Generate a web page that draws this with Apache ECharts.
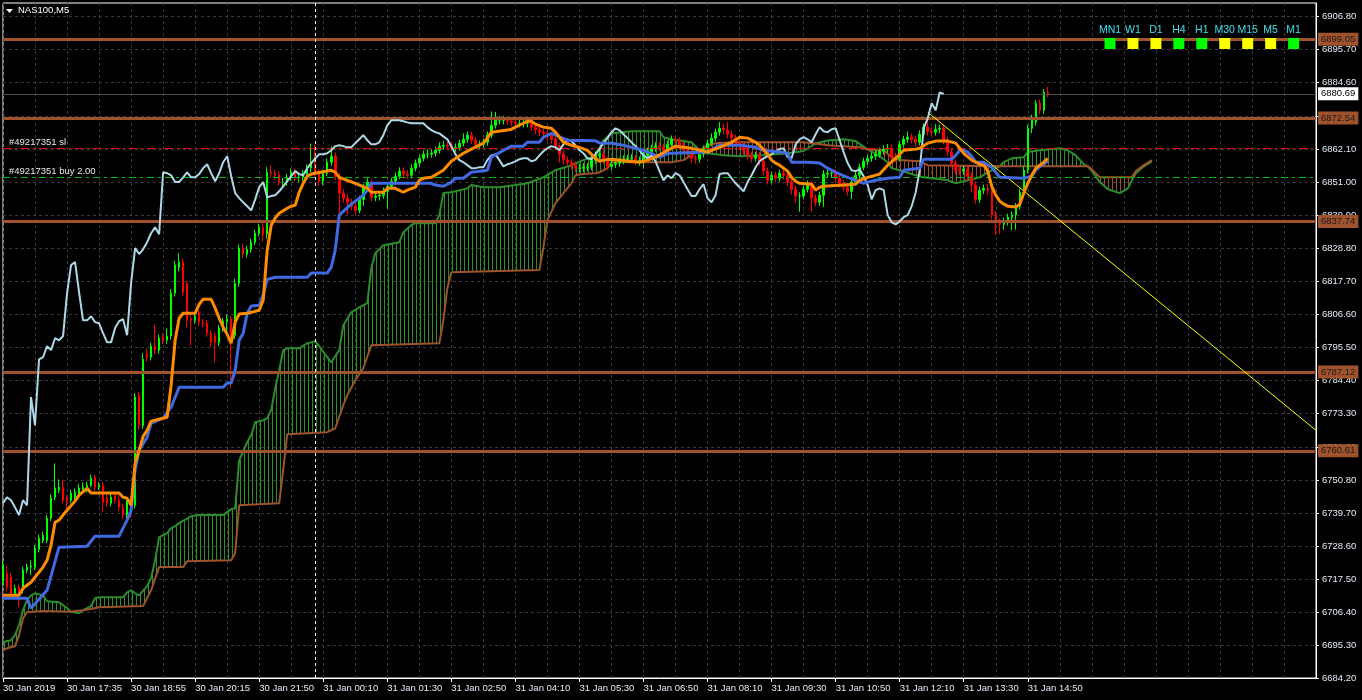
<!DOCTYPE html>
<html><head><meta charset="utf-8">
<script src="https://cdn.jsdelivr.net/npm/echarts@6/dist/echarts.min.js"></script>
<style>html,body{margin:0;padding:0;background:#000;}#c{width:1362px;height:700px;}</style>
</head><body><div id="c"></div>
<script>
// ---------- categories (M5 bars, with session gaps) ----------
const YEAR = '2019';
const sessions = [['30 Jan','16:15',48],['30 Jan','20:15',8],['30 Jan','21:10',10],['30 Jan','23:00',12],['31 Jan','00:00',251]];
const LAST_BAR = 261;
const categories = [];
sessions.forEach(([day, start, n]) => {
  const [h, m] = start.split(':').map(Number);
  for (let k = 0; k < n; k++) {
    const t = h * 60 + m + 5 * k;
    categories.push(day + ' ' + String(Math.floor(t / 60)).padStart(2, '0') + ':' + String(t % 60).padStart(2, '0'));
  }
});

// ---------- candles ----------
const opens = [
6716.8,6719.4,6718.1,6712.7,6714.7,6713.7,6720.5,6721.5,6721.5,6727.5,
6730.5,6730.5,6737.9,6745.0,6747.5,6748.4,6744.7,6744.0,6745.0,6746.4,
6747.7,6748.1,6749.0,6751.7,6748.4,6749.0,6744.7,6743.0,6745.7,6744.0,
6741.6,6739.0,6744.0,6742.3,6779.3,6769.2,6793.2,6792.1,6795.8,6794.5,
6798.9,6797.8,6799.2,6813.6,6822.4,6824.1,6816.8,6805.0,6804.5,6807.0,
6803.9,6803.5,6800.2,6799.2,6797.1,6801.9,6804.2,6804.9,6799.5,6817.0,
6828.8,6826.8,6828.4,6830.8,6833.8,6835.8,6833.5,6854.3,6854.0,6853.3,
6851.0,6851.0,6852.6,6854.3,6852.6,6852.6,6853.7,6855.7,6857.0,6854.0,
6851.3,6854.0,6857.7,6859.7,6853.0,6847.3,6845.6,6844.2,6842.9,6841.5,
6845.2,6849.3,6851.0,6845.9,6846.3,6846.6,6847.9,6849.6,6851.3,6853.0,
6854.7,6853.7,6853.3,6855.7,6857.4,6859.0,6860.4,6860.4,6860.7,6861.7,
6863.1,6863.4,6863.1,6862.7,6862.7,6864.1,6865.4,6866.8,6865.1,6863.7,
6863.7,6864.4,6866.8,6870.1,6871.8,6871.8,6871.8,6871.5,6871.1,6870.8,
6870.8,6870.8,6870.8,6869.5,6868.5,6867.8,6867.4,6866.4,6865.4,6863.1,
6860.4,6858.4,6857.7,6856.7,6855.7,6855.7,6856.0,6856.0,6858.4,6860.0,
6860.4,6858.4,6856.3,6857.0,6857.4,6858.0,6858.7,6859.0,6859.0,6858.0,
6858.4,6860.0,6861.4,6862.4,6863.1,6862.7,6861.7,6863.7,6865.4,6864.8,
6863.4,6861.7,6860.7,6859.0,6858.7,6860.4,6862.1,6864.1,6865.8,6867.8,
6869.1,6868.5,6867.1,6865.8,6864.4,6863.1,6861.7,6860.0,6859.0,6860.0,
6858.0,6854.7,6851.6,6853.3,6852.3,6854.0,6853.3,6851.0,6848.6,6846.3,
6846.3,6848.6,6850.3,6845.6,6844.2,6846.6,6853.7,6854.0,6854.0,6852.3,
6850.6,6849.3,6847.9,6851.0,6853.3,6856.0,6858.0,6859.0,6859.7,6860.4,
6861.4,6862.1,6862.4,6859.4,6859.0,6863.7,6865.4,6866.1,6865.4,6864.4,
6867.1,6869.5,6868.1,6867.8,6868.8,6869.1,6865.1,6861.1,6857.4,6855.0,
6854.7,6855.3,6853.0,6850.0,6845.2,6848.3,6848.9,6848.3,6839.9,6837.5,
6836.8,6837.8,6839.2,6839.9,6842.9,6847.6,6855.0,6869.1,6871.2,6877.5,6875.2,6881.2];
const closes = [
6722.0,6714.7,6712.7,6714.4,6712.7,6720.5,6721.5,6721.8,6727.9,6731.2,
6732.2,6737.9,6744.7,6748.1,6748.4,6744.0,6744.0,6746.4,6746.7,6748.1,
6748.4,6749.0,6751.4,6748.4,6749.0,6743.3,6743.0,6745.0,6744.0,6741.6,
6739.0,6744.0,6742.3,6778.7,6769.2,6791.4,6792.1,6795.8,6794.5,6798.5,
6797.8,6799.2,6813.6,6823.1,6824.1,6814.0,6804.5,6804.5,6805.9,6803.9,
6803.5,6800.2,6797.1,6797.1,6801.9,6804.2,6804.9,6799.5,6817.0,6828.8,
6826.8,6828.4,6830.8,6833.8,6835.8,6833.5,6854.3,6854.0,6853.3,6851.0,
6851.0,6852.6,6854.3,6852.6,6852.6,6853.7,6855.7,6857.0,6854.0,6851.3,
6854.0,6857.7,6859.7,6853.0,6847.3,6845.6,6844.2,6842.9,6841.5,6845.2,
6849.3,6851.0,6845.9,6846.3,6846.6,6847.9,6849.6,6851.3,6853.0,6854.7,
6853.7,6853.3,6855.7,6857.4,6859.0,6860.4,6860.4,6860.7,6861.7,6863.1,
6863.4,6863.1,6862.7,6862.7,6864.1,6865.4,6866.8,6865.1,6863.7,6863.7,
6864.4,6866.8,6870.1,6871.8,6871.8,6871.8,6871.5,6871.1,6870.8,6870.8,
6870.8,6870.8,6869.5,6868.5,6867.8,6867.4,6866.4,6865.4,6863.1,6860.4,
6858.4,6857.7,6856.7,6855.7,6855.7,6856.0,6856.0,6858.4,6860.0,6860.4,
6858.4,6856.3,6857.0,6857.4,6858.0,6858.7,6859.0,6859.0,6858.0,6858.4,
6860.0,6861.4,6862.4,6863.1,6862.7,6861.7,6863.7,6865.4,6864.8,6863.4,
6861.7,6860.7,6859.0,6858.7,6860.4,6862.1,6864.1,6865.8,6867.8,6869.1,
6868.5,6867.1,6865.8,6864.4,6863.1,6861.7,6860.0,6859.0,6860.0,6858.0,
6854.7,6851.6,6853.3,6852.3,6854.0,6853.3,6851.0,6848.6,6846.3,6846.3,
6848.6,6850.3,6845.6,6844.2,6846.6,6853.7,6854.0,6854.0,6852.3,6850.6,
6849.3,6847.9,6851.0,6853.3,6856.0,6858.0,6859.0,6859.7,6860.4,6861.4,
6862.1,6862.4,6859.4,6859.0,6863.7,6865.4,6866.1,6865.4,6864.4,6867.1,
6869.5,6868.1,6867.8,6868.8,6869.1,6865.1,6861.1,6857.4,6855.0,6854.7,
6855.3,6853.0,6850.0,6845.2,6848.3,6848.9,6848.3,6839.9,6837.5,6836.8,
6837.8,6839.2,6839.9,6842.9,6847.6,6855.0,6869.1,6872.5,6877.5,6875.2,6881.2,6880.7];
const lows = [
6715.3,6713.2,6711.0,6711.2,6708.0,6712.6,6719.4,6718.8,6720.6,6726.4,
6729.6,6729.5,6737.0,6744.0,6746.4,6742.8,6740.6,6743.0,6744.0,6745.4,
6746.6,6746.6,6748.4,6747.2,6747.4,6740.1,6741.8,6741.9,6742.9,6740.3,
6737.6,6737.8,6738.0,6741.2,6767.8,6768.0,6790.6,6791.0,6793.2,6793.3,
6796.5,6796.6,6798.0,6812.5,6821.0,6812.8,6802.0,6796.0,6803.4,6802.5,
6802.2,6799.0,6795.6,6790.4,6795.8,6800.6,6800.0,6781.7,6798.2,6815.8,
6825.5,6825.6,6827.3,6829.8,6832.7,6831.0,6832.0,6852.5,6851.8,6849.7,
6849.6,6849.8,6851.4,6851.3,6851.0,6851.4,6852.6,6854.4,6852.6,6849.8,
6850.0,6853.0,6856.4,6851.6,6840.5,6844.0,6840.0,6841.5,6840.0,6840.5,
6843.0,6848.0,6844.5,6844.6,6844.8,6845.4,6842.0,6848.5,6850.2,6852.0,
6852.4,6852.0,6852.3,6854.6,6856.3,6858.0,6859.0,6859.2,6859.6,6860.6,
6862.0,6861.8,6861.4,6861.2,6861.6,6863.0,6864.2,6863.8,6862.4,6862.2,
6862.6,6863.3,6865.8,6869.0,6870.4,6870.4,6870.2,6869.8,6869.5,6869.4,
6869.4,6869.4,6868.2,6867.2,6866.5,6866.0,6865.0,6864.0,6861.8,6857.5,
6857.0,6856.3,6855.3,6854.3,6854.2,6854.3,6854.6,6855.0,6857.2,6858.8,
6857.0,6855.0,6855.0,6855.8,6856.2,6857.0,6857.4,6857.6,6856.6,6856.5,
6855.5,6858.8,6860.2,6861.2,6861.4,6860.3,6860.6,6862.6,6863.4,6862.0,
6860.3,6859.3,6857.6,6857.2,6857.5,6859.3,6861.0,6863.0,6864.7,6866.6,
6867.1,6865.7,6864.4,6863.0,6861.7,6860.3,6858.6,6857.6,6857.9,6856.6,
6853.3,6850.2,6850.5,6850.9,6851.2,6851.9,6849.6,6846.8,6844.0,6841.0,
6845.2,6847.5,6841.0,6842.8,6843.0,6842.7,6852.4,6852.6,6850.9,6849.2,
6847.9,6846.5,6845.3,6850.0,6852.2,6855.0,6856.8,6857.8,6858.5,6859.2,
6860.2,6860.8,6858.0,6857.6,6858.0,6862.6,6864.2,6864.0,6863.0,6863.4,
6866.0,6866.7,6866.4,6866.6,6867.4,6863.7,6859.7,6856.0,6853.6,6853.3,
6853.4,6851.6,6847.5,6843.8,6844.0,6847.0,6846.9,6838.5,6833.1,6833.5,
6835.0,6836.4,6834.8,6835.0,6841.8,6846.4,6854.0,6867.5,6870.0,6873.8,6874.0,6879.5];
const highs = [
6723.5,6722.0,6719.5,6715.6,6715.7,6721.6,6722.6,6723.8,6729.0,6732.4,
6733.4,6739.0,6745.9,6756.4,6751.0,6750.9,6745.6,6747.6,6748.0,6749.4,
6750.0,6750.2,6752.6,6752.6,6750.0,6750.1,6745.8,6746.1,6746.8,6745.2,
6742.8,6745.1,6745.4,6780.0,6780.5,6793.4,6795.0,6797.0,6803.0,6799.7,
6800.2,6801.8,6815.0,6824.5,6827.1,6825.3,6817.8,6806.2,6807.2,6808.2,
6805.0,6804.6,6801.3,6800.4,6803.0,6805.4,6806.5,6806.0,6818.5,6830.0,
6830.2,6829.6,6832.0,6835.0,6837.0,6837.2,6856.0,6856.6,6855.2,6854.5,
6852.4,6853.8,6855.6,6855.5,6854.0,6855.0,6857.0,6864.0,6863.5,6855.3,
6855.2,6859.0,6863.0,6861.0,6854.2,6848.7,6846.8,6845.5,6844.0,6846.4,
6850.5,6852.3,6852.0,6847.6,6847.9,6849.2,6850.8,6852.5,6854.3,6856.0,
6856.0,6855.0,6857.0,6858.6,6860.2,6861.6,6862.0,6862.0,6863.0,6864.4,
6864.8,6864.6,6864.2,6864.0,6865.3,6867.4,6868.0,6868.0,6866.2,6865.0,
6865.6,6868.0,6874.8,6874.6,6873.2,6873.2,6873.0,6872.6,6872.3,6872.2,
6872.2,6872.4,6872.0,6870.6,6869.8,6869.0,6868.6,6867.6,6866.6,6864.2,
6861.6,6859.6,6858.9,6858.0,6857.2,6857.4,6857.4,6859.6,6861.3,6861.8,
6861.6,6859.5,6858.2,6858.6,6859.2,6860.0,6860.2,6860.4,6860.2,6859.6,
6861.2,6862.6,6863.6,6864.4,6864.4,6864.0,6865.0,6866.7,6866.6,6866.0,
6864.6,6862.9,6862.0,6860.2,6861.6,6863.3,6865.3,6867.4,6869.0,6871.2,
6870.6,6871.2,6868.4,6867.0,6865.6,6864.3,6862.9,6861.2,6861.2,6861.2,
6859.2,6855.9,6854.5,6854.5,6855.2,6855.2,6854.5,6852.2,6849.8,6847.6,
6849.8,6851.5,6851.4,6846.8,6847.8,6855.0,6855.3,6855.4,6855.2,6853.5,
6851.8,6850.5,6852.2,6854.5,6857.2,6859.2,6860.2,6861.0,6861.6,6862.6,
6863.4,6863.8,6863.6,6860.8,6865.0,6866.6,6868.0,6867.4,6866.6,6868.4,
6870.8,6873.0,6869.4,6870.5,6870.4,6870.4,6866.3,6862.3,6858.6,6856.4,
6856.6,6856.5,6854.2,6851.2,6849.5,6850.2,6850.3,6849.5,6841.2,6838.8,
6839.0,6840.4,6841.1,6844.0,6848.8,6856.2,6870.3,6873.7,6878.6,6878.8,6882.3,6883.1];

// ---------- Ichimoku lines: [barIndex, price] vertices ----------
const tenkan = [[0,6712.0],[4,6712.0],[5,6714.4],[7,6716.4],[10,6721.5],[11,6723.8],[12,6728.9],[13,6736.6],[14,6737.3],[15,6739.0],[16,6740.6],[18,6743.7],[19,6745.7],[21,6748.0],[22,6746.4],[29,6746.4],[30,6745.0],[31,6744.7],[32,6742.3],[33,6756.4],[34,6760.8],[35,6765.5],[36,6767.5],[37,6770.6],[41,6771.9],[42,6782.7],[43,6797.8],[44,6805.2],[45,6806.9],[48,6806.9],[49,6809.9],[50,6811.6],[52,6811.6],[53,6808.6],[54,6805.2],[55,6802.2],[56,6799.8],[57,6796.8],[58,6803.9],[59,6806.6],[61,6806.9],[62,6807.2],[64,6807.9],[65,6811.3],[66,6828.1],[67,6836.5],[68,6838.9],[69,6840.5],[71,6842.2],[72,6842.9],[73,6843.2],[74,6847.6],[75,6850.6],[76,6853.0],[77,6853.7],[82,6855.0],[83,6854.3],[84,6852.6],[86,6851.6],[88,6850.6],[91,6848.9],[92,6847.6],[95,6847.6],[96,6848.9],[98,6848.9],[100,6847.6],[101,6848.3],[103,6849.3],[104,6851.6],[105,6852.3],[107,6852.6],[110,6855.0],[112,6858.0],[115,6860.7],[117,6862.1],[120,6864.1],[121,6865.8],[122,6867.8],[126,6868.5],[127,6868.8],[128,6869.5],[130,6870.8],[131,6871.5],[132,6871.5],[133,6870.5],[135,6869.5],[137,6869.1],[138,6867.8],[140,6864.4],[142,6863.4],[144,6862.7],[146,6861.7],[148,6859.0],[149,6858.0],[150,6858.4],[152,6858.7],[159,6857.7],[161,6858.4],[163,6859.4],[166,6861.7],[168,6863.1],[172,6862.4],[176,6861.1],[177,6861.7],[179,6862.7],[182,6864.4],[184,6866.1],[186,6865.8],[188,6864.4],[189,6863.4],[191,6860.4],[192,6858.4],[193,6857.4],[194,6856.7],[196,6854.7],[197,6852.6],[198,6851.3],[199,6850.6],[202,6850.3],[203,6848.3],[204,6849.3],[205,6849.6],[213,6850.3],[214,6851.6],[216,6852.6],[219,6853.7],[221,6856.7],[223,6859.0],[225,6861.7],[228,6862.1],[229,6862.4],[231,6864.1],[233,6864.8],[236,6864.8],[238,6864.1],[240,6860.7],[242,6858.4],[244,6857.0],[245,6856.7],[246,6854.7],[247,6849.6],[248,6846.6],[249,6844.6],[250,6843.6],[251,6842.9],[253,6842.6],[254,6843.6],[255,6847.3],[256,6850.6],[257,6853.3],[258,6855.7],[260,6857.7],[261,6859.0]];
const kijun = [[0,6711.0],[6,6711.0],[7,6707.7],[11,6713.7],[14,6728.2],[21,6728.5],[23,6731.9],[29,6731.9],[31,6737.3],[32,6740.6],[33,6754.1],[34,6760.8],[36,6765.2],[37,6769.9],[40,6771.6],[42,6775.3],[44,6782.0],[55,6782.0],[56,6783.4],[57,6783.4],[58,6787.7],[59,6797.8],[60,6800.2],[61,6806.9],[62,6809.3],[64,6809.6],[65,6813.0],[66,6818.3],[68,6819.0],[76,6819.0],[77,6820.4],[81,6820.4],[82,6822.4],[83,6828.1],[84,6839.9],[87,6843.6],[90,6846.6],[91,6848.3],[92,6850.6],[107,6850.6],[108,6850.0],[110,6849.6],[112,6851.0],[113,6852.3],[115,6852.3],[117,6854.3],[121,6855.0],[122,6859.4],[126,6862.4],[127,6863.1],[130,6863.1],[131,6864.4],[134,6864.4],[135,6866.1],[137,6867.4],[138,6866.8],[141,6865.1],[148,6864.9],[149,6864.2],[152,6864.1],[155,6863.4],[157,6862.7],[160,6861.7],[163,6860.0],[164,6859.4],[166,6860.7],[167,6860.7],[176,6861.1],[177,6861.7],[178,6862.7],[179,6863.4],[184,6863.4],[188,6862.7],[190,6861.7],[194,6861.1],[196,6860.7],[197,6857.7],[201,6857.7],[204,6857.4],[206,6855.7],[208,6854.3],[211,6852.6],[213,6851.6],[215,6850.6],[216,6851.0],[218,6851.6],[221,6852.3],[224,6852.6],[225,6855.0],[229,6855.7],[230,6858.7],[237,6858.7],[238,6860.0],[239,6861.7],[240,6861.7],[241,6861.1],[242,6859.7],[243,6857.7],[245,6857.7],[247,6856.0],[248,6854.3],[249,6852.6],[255,6852.3],[257,6853.0],[258,6855.0],[259,6856.3],[261,6858.0]];
const spanA = [[0,6696.3],[2,6696.9],[3,6698.6],[4,6702.0],[5,6707.0],[6,6710.4],[7,6712.0],[8,6712.7],[10,6712.0],[11,6710.0],[14,6709.7],[16,6707.7],[17,6706.5],[19,6706.0],[20,6707.0],[22,6708.4],[23,6711.0],[24,6711.4],[30,6711.4],[31,6713.0],[32,6713.7],[33,6712.7],[34,6712.0],[36,6715.1],[37,6717.8],[38,6723.8],[39,6731.6],[41,6732.9],[42,6734.6],[43,6735.3],[44,6736.3],[47,6738.6],[49,6739.0],[55,6739.0],[57,6741.0],[58,6741.3],[59,6757.4],[61,6763.5],[62,6765.9],[63,6770.2],[65,6770.9],[66,6771.6],[67,6774.3],[68,6781.7],[69,6787.7],[70,6794.5],[71,6795.1],[74,6795.1],[76,6796.8],[77,6797.1],[78,6797.5],[79,6795.8],[81,6792.1],[82,6790.4],[84,6794.5],[85,6802.8],[87,6807.2],[89,6808.9],[91,6810.3],[92,6822.0],[93,6827.1],[95,6829.8],[99,6830.8],[100,6834.1],[102,6836.5],[103,6837.2],[108,6837.2],[109,6839.9],[110,6847.3],[112,6847.6],[116,6848.9],[117,6850.0],[120,6849.3],[124,6849.3],[128,6850.0],[131,6850.6],[135,6852.6],[138,6855.0],[142,6856.7],[145,6858.4],[147,6859.4],[148,6860.0],[149,6862.4],[150,6865.1],[152,6867.4],[157,6868.1],[164,6868.1],[165,6866.1],[167,6865.4],[172,6864.4],[174,6861.7],[176,6860.7],[180,6860.0],[184,6859.7],[190,6860.0],[196,6860.7],[200,6861.5],[203,6864.0],[206,6865.0],[210,6865.4],[213,6864.8],[216,6862.0],[219,6859.7],[221,6857.7],[222,6855.7],[224,6855.0],[228,6853.3],[230,6852.6],[236,6851.6],[238,6850.6],[241,6851.6],[244,6852.6],[246,6854.3],[249,6856.3],[250,6857.7],[252,6859.0],[255,6859.4],[256,6861.1],[259,6861.7],[264,6862.4],[266,6861.7],[268,6860.0],[270,6857.0],[271,6856.3],[272,6854.7],[274,6851.0],[276,6848.6],[279,6847.3],[281,6848.9],[282,6851.6],[283,6854.0],[285,6856.3],[287,6858.0]];
const spanB = [[0,6693.5],[1,6694.2],[3,6694.9],[4,6698.6],[5,6704.3],[6,6706.3],[10,6706.7],[17,6706.5],[18,6706.7],[20,6707.0],[22,6707.4],[24,6708.0],[35,6708.4],[37,6713.7],[39,6721.5],[45,6721.5],[46,6723.5],[57,6723.8],[58,6726.2],[59,6742.3],[69,6743.0],[70,6754.1],[71,6766.2],[81,6766.9],[83,6768.2],[85,6776.0],[86,6779.3],[88,6784.4],[90,6788.4],[92,6796.1],[109,6796.8],[110,6804.5],[111,6815.3],[112,6820.7],[134,6821.4],[135,6829.1],[136,6838.2],[138,6843.9],[140,6847.3],[142,6850.6],[143,6853.3],[145,6853.7],[148,6854.0],[149,6854.3],[151,6855.7],[152,6857.7],[167,6857.7],[170,6858.4],[174,6861.7],[176,6863.4],[178,6864.1],[182,6864.4],[200,6864.4],[203,6864.0],[206,6863.4],[214,6862.7],[216,6862.0],[220,6861.7],[222,6859.4],[224,6858.4],[229,6858.0],[231,6856.7],[249,6856.3],[271,6856.3],[272,6855.3],[274,6852.6],[282,6852.6],[283,6854.7],[285,6856.7],[287,6858.4]];
// cloud segments: [fromBar, toBar, 'up' = span A above B | 'dn' = span B above A]
const cloudSegs = [[0,17,'up'],[17,20,'dn'],[20,174,'up'],[174,203,'dn'],[203,216,'up'],[216,249,'dn'],[249,271,'up'],[271,287,'dn']];
const CHIKOU_SHIFT = 26;

// ---------- levels / annotations ----------
const levelPrices = [6899.05, 6872.54, 6837.74, 6787.12, 6760.61];
const bidPrice = 6880.69;
const slPrice = 6862.4;
const buyPrice = 6852.7;
const separatorBar = 78;
const trendLine = [[231, 6874.5], [328, 6767.5]];
const yTicks = [6684.2,6695.3,6706.4,6717.5,6728.6,6739.7,6750.8,6761.9,6773.3,6784.4,6795.5,6806.6,6817.7,6828.8,6839.9,6851.0,6862.1,6873.2,6884.6,6895.7,6906.8];
const tfNames = ['MN1','W1','D1','H4','H1','M30','M15','M5','M1'];
const tfState = ['up','flat','flat','up','up','flat','flat','flat','up'];

// ---------- styles ----------
const FONT = 'Liberation Sans, Arial, sans-serif';
const AX = '#e4ecf8';
function hatch(color) {
  const c = document.createElement('canvas'); c.width = 4; c.height = 4;
  const g = c.getContext('2d'); g.fillStyle = color; g.fillRect(0, 0, 1, 4);
  return c;
}
const hatchUp = { image: hatch('#2a8f2a'), repeat: 'repeat' };
const hatchDn = { image: hatch('#9a5028'), repeat: 'repeat' };

const candleData = opens.map((o, i) => [o, closes[i], lows[i], highs[i]]);
const chikou = closes.slice(CHIKOU_SHIFT).map((c, j) => [j, c]);

const chart = echarts.init(document.getElementById('c'), null, { renderer: 'canvas' });
const tickShow = (i) => i % 16 === 0 && i <= LAST_BAR;

const levelMarks = levelPrices.map(v => ({
  yAxis: v,
  lineStyle: { color: '#a0522d', width: 3, type: 'solid' },
  label: { show: true, position: 'end', formatter: v.toFixed(2), backgroundColor: '#a0522d', color: '#1a1a1a',
           padding: [2, 3, 1, 3], distance: 2, fontSize: 9.5, fontFamily: FONT }
}));

const option = {
  animation: false,
  backgroundColor: '#000',
  textStyle: { fontFamily: FONT },
  grid: { left: 3, right: 46, top: 3, bottom: 22, show: true, borderColor: '#fff', borderWidth: 1, backgroundColor: '#000' },
  xAxis: {
    type: 'category', data: categories, boundaryGap: false,
    axisLine: { lineStyle: { color: '#fff' } },
    axisTick: { show: true, interval: tickShow, length: 4, lineStyle: { color: '#fff' } },
    axisLabel: {
      interval: tickShow, align: 'left', color: AX, fontSize: 9.5, margin: 5, fontFamily: FONT,
      formatter: (v, i) => i > LAST_BAR ? '' : (i === 0 ? v.slice(0, 6) + ' ' + YEAR : v)
    },
    splitLine: { show: true, interval: (i) => i % 8 === 0, lineStyle: { color: '#383838', type: [3, 3], width: 1 } }
  },
  yAxis: {
    type: 'value', position: 'right', min: 6684.2, max: 6911.25, scale: true,
    axisLine: { show: true, lineStyle: { color: '#fff' } },
    axisTick: { show: true, customValues: yTicks, length: 3, lineStyle: { color: '#fff' } },
    axisLabel: { customValues: yTicks, formatter: (v) => Number(v).toFixed(2), color: AX, fontSize: 9.5, margin: 6, fontFamily: FONT },
    splitLine: { show: true, lineStyle: { color: '#383838', type: [3, 3], width: 1 } }
  },
  series: [
    {
      type: 'custom', name: 'cloud', coordinateSystem: 'cartesian2d', clip: true, silent: true, z: 1,
      data: cloudSegs.map((s, k) => [s[0], s[1], k]),
      encode: { x: [0, 1] },
      renderItem: (params, api) => {
        const seg = cloudSegs[params.dataIndex];
        const a = spanA.filter(p => p[0] >= seg[0] && p[0] <= seg[1]).map(p => api.coord(p));
        const b = spanB.filter(p => p[0] >= seg[0] && p[0] <= seg[1]).reverse().map(p => api.coord(p));
        return { type: 'polygon', shape: { points: a.concat(b) }, style: { fill: seg[2] === 'up' ? hatchUp : hatchDn, stroke: null } };
      }
    },
    { type: 'line', name: 'Senkou A', data: spanA, symbol: 'none', z: 2, lineStyle: { color: '#2a8f2a', width: 2 }, silent: true },
    { type: 'line', name: 'Senkou B', data: spanB, symbol: 'none', z: 2, lineStyle: { color: '#a0522d', width: 2 }, silent: true },
    {
      type: 'line', name: 'levels', data: [], z: 3, silent: true,
      markLine: {
        symbol: ['none', 'none'], silent: true, animation: false,
        data: levelMarks.concat([
          { yAxis: bidPrice, lineStyle: { color: '#4a4a4a', width: 1, type: 'solid' },
            label: { show: true, position: 'end', formatter: bidPrice.toFixed(2), backgroundColor: '#ffffff', color: '#000',
                     padding: [2, 3, 1, 3], distance: 2, fontSize: 9.5, fontFamily: FONT } },
          { yAxis: slPrice, lineStyle: { color: '#ff0000', width: 1, type: [8, 4, 2, 4] },
            label: { show: true, position: 'insideStartTop', formatter: '#49217351 sl', color: '#e8e8e8', fontSize: 9.5, distance: [6, 1], fontFamily: FONT } },
          { yAxis: buyPrice, lineStyle: { color: '#00c000', width: 1, type: [7, 4, 3, 4] },
            label: { show: true, position: 'insideStartTop', formatter: '#49217351 buy 2.00', color: '#e8e8e8', fontSize: 9.5, distance: [6, 1], fontFamily: FONT } },
          { xAxis: separatorBar, lineStyle: { color: '#ffffff', width: 1, type: [3, 3] }, label: { show: false } }
        ])
      }
    },
    {
      type: 'candlestick', name: 'NAS100', data: candleData, z: 4, barWidth: 2, silent: true,
      itemStyle: { color: '#00ff00', color0: '#ff0000', borderColor: '#00ff00', borderColor0: '#ff0000', borderWidth: 1 }
    },
    { type: 'line', name: 'Chikou', data: chikou, symbol: 'none', z: 5, lineStyle: { color: '#add8e6', width: 2 }, silent: true },
    { type: 'line', name: 'Kijun', data: kijun, symbol: 'none', z: 6, lineStyle: { color: '#4169e1', width: 3 }, silent: true },
    { type: 'line', name: 'Tenkan', data: tenkan, symbol: 'none', z: 7, lineStyle: { color: '#ff8c00', width: 3 }, silent: true },
    {
      type: 'line', name: 'trend', data: [], z: 8, silent: true,
      markLine: {
        symbol: ['none', 'none'], silent: true, animation: false,
        data: [[{ coord: trendLine[0] }, { coord: trendLine[1] }]],
        lineStyle: { color: '#ffff00', width: 1, type: 'solid' }, label: { show: false }
      }
    }
  ],
  graphic: [
    { type: 'polygon', shape: { points: [[6, 9], [13, 9], [9.5, 13]] }, style: { fill: '#ffffff' }, z: 100 },
    { type: 'text', x: 18, y: 5, style: { text: 'NAS100,M5', fill: '#ffffff', font: '9.5px ' + FONT }, z: 100 }
  ].concat(tfNames.map((n, k) => ({
    type: 'text', x: 1110 + 22.95 * k, y: 30, z: 100,
    style: { text: n, fill: '#3ee0ea', font: '10.5px ' + FONT, align: 'center', verticalAlign: 'middle' }
  }))).concat(tfNames.map((n, k) => ({
    type: 'rect', z: 100, shape: { x: 1104.5 + 22.95 * k, y: 38, width: 11, height: 11 },
    style: { fill: tfState[k] === 'up' ? '#00ff00' : '#ffff00' }
  })))
};
chart.setOption(option);
</script></body></html>
